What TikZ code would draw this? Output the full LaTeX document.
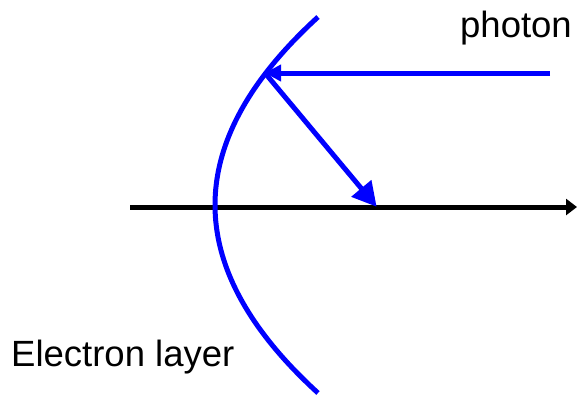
\documentclass[tikz,border=0pt]{standalone}
\usepackage{fontspec}
\setmainfont{Liberation Sans}
\usetikzlibrary{arrows.meta}
\begin{document}
\begin{tikzpicture}[x=1pt,y=-1pt,
  blueline/.style={draw={rgb,255:red,0;green,0;blue,255},line width=5pt},
  lbl/.style={font=\fontsize{36.5}{40}\selectfont,inner sep=0pt}]
\useasboundingbox (0,0) rectangle (577,400);
\coordinate (axS) at (130,207);
\coordinate (axE) at (577,207);
\coordinate (hit) at (265,73);
\coordinate (src) at (550,73);
\coordinate (ref) at (376,206);
% axis
\draw[line width=5pt,-{Triangle[length=11pt,width=16pt]}] (axS) -- (axE);
% electron layer curve
\draw[blueline] plot[domain=-1.88:1.88,samples=80] ({215+29.14*(\x)^2},{205+100*\x});
% photon
\draw[blueline,-{Triangle[length=16pt,width=16pt]}] (src) -- (hit);
\draw[blueline,shorten >=-1pt,-{Triangle[length=24pt,width=25pt]}] (hit) -- (ref);
\node[lbl,anchor=base east] (ph) at (572,37) {photon};
\node[lbl,anchor=base west] (el) at (11,366) {Electron layer};
\end{tikzpicture}
\end{document}
